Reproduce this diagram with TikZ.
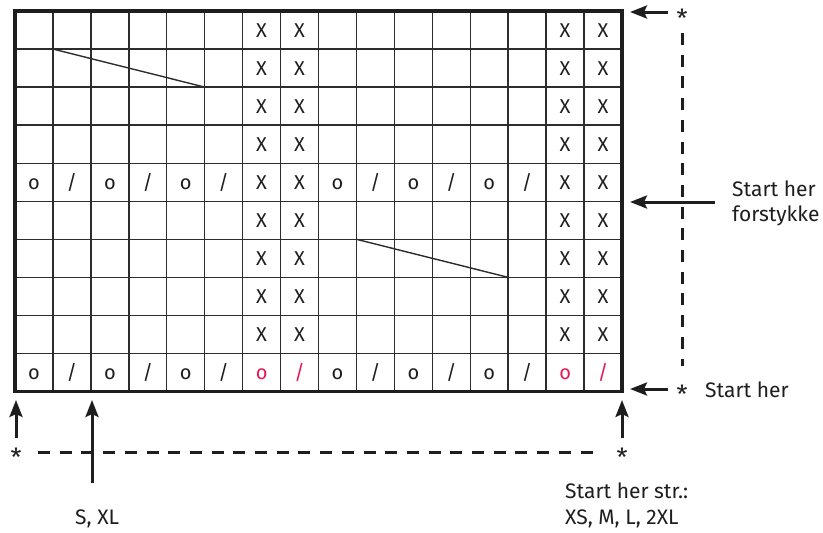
\documentclass[tikz,border=0pt]{standalone}
\usepackage{fontspec}
\setmainfont{Fira Sans}
\usetikzlibrary{arrows.meta}
\definecolor{gridc}{RGB}{45,45,45}
\definecolor{redc}{RGB}{228,24,84}
\definecolor{txt}{RGB}{30,30,30}
\begin{document}
\begin{tikzpicture}[x=1pt,y=-1pt,
  cell/.style={font=\fontsize{20}{20}\selectfont, text=txt, inner sep=0pt, anchor=base},
  redcell/.style={cell, text=redc},
  lbl/.style={font=\fontsize{21}{25}\selectfont, text=txt, inner sep=0pt, anchor=base west},
  star/.style={font=\fontsize{25}{25}\selectfont, text=txt, inner sep=0pt, anchor=base},
  arr/.style={line width=3pt, txt, -{Stealth[length=17pt,width=13pt,inset=3pt]}},
  dsh/.style={line width=3pt, txt, dash pattern=on 12pt off 9.7pt},
  gline/.style={line width=1.4pt, gridc},
  border/.style={line width=3.5pt, txt},
]
\useasboundingbox (0,0) rectangle (823,533);
\def\XO{15}
\def\YO{11}
\def\W{37.9375}
\def\H{38.05}
% grid
\foreach \i in {1,...,15} \draw[gline] ({\XO+\i*\W},\YO) -- ({\XO+\i*\W},391.5);
\foreach \j in {1,...,9} \draw[gline] (\XO,{\YO+\j*\H}) -- (622,{\YO+\j*\H});
\draw[border] (\XO,\YO) rectangle (622,391.5);
% diagonal lines
\coordinate (d1a) at ({\XO+1*\W},{\YO+1*\H});
\coordinate (d1b) at ({\XO+5*\W},{\YO+2*\H});
\coordinate (d2a) at ({\XO+9*\W},{\YO+6*\H});
\coordinate (d2b) at ({\XO+13*\W},{\YO+7*\H});
\draw[gline] (d1a) -- (d1b);
\draw[gline] (d2a) -- (d2b);
% X columns
\foreach \r in {0,1,2,3,4,5,6,7,8} {
  \foreach \c in {6,7,14,15}
    \node[cell] (x\r-\c) at ({\XO+(\c+0.5)*\W},{\YO+(\r+0.5)*\H+7.5}) {X};
}
% row 4 and row 9: o and /
\foreach \c in {0,2,4,8,10,12} {
  \node[cell] (o4-\c) at ({\XO+(\c+0.5)*\W},{\YO+4.5*\H+7.5}) {o};
  \node[cell] (o9-\c) at ({\XO+(\c+0.5)*\W},{\YO+9.5*\H+7.5}) {o};
}
\foreach \c in {1,3,5,9,11,13} {
  \node[cell] (q4-\c) at ({\XO+(\c+0.5)*\W},{\YO+4.5*\H+7.5}) {/};
  \node[cell] (q9-\c) at ({\XO+(\c+0.5)*\W},{\YO+9.5*\H+7.5}) {/};
}
\foreach \c in {6,14}
  \node[redcell] (o9-\c) at ({\XO+(\c+0.5)*\W},{\YO+9.5*\H+7.5}) {o};
\foreach \c in {7,15}
  \node[redcell] (q9-\c) at ({\XO+(\c+0.5)*\W},{\YO+9.5*\H+7.5}) {/};
% stars
\node[star] (s1) at (682,27) {*};
\node[star] (s2) at (682,403) {*};
\node[star] (s3) at (16,466) {*};
\node[star] (s4) at (622,466) {*};
% arrows
\coordinate (a1s) at (668,12);   \coordinate (a1e) at (630,12);
\coordinate (a2s) at (715,202);  \coordinate (a2e) at (630,202);
\coordinate (a3s) at (668,389);  \coordinate (a3e) at (630,389);
\coordinate (a4s) at (16,438);   \coordinate (a4e) at (16,400);
\coordinate (a5s) at (92,483);   \coordinate (a5e) at (92,400);
\coordinate (a6s) at (622,438);  \coordinate (a6e) at (622,400);
\draw[arr] (a1s) -- (a1e);
\draw[arr] (a2s) -- (a2e);
\draw[arr] (a3s) -- (a3e);
\draw[arr] (a4s) -- (a4e);
\draw[arr] (a5s) -- (a5e);
\draw[arr] (a6s) -- (a6e);
% dashed lines
\coordinate (v1) at (682,33); \coordinate (v2) at (682,366);
\coordinate (h1) at (38,452); \coordinate (h2) at (602,452);
\draw[dsh] (v1) -- (v2);
\draw[dsh] (h1) -- (h2);
% labels
\node[lbl] (l1) at (732,196) {Start her};
\node[lbl] (l2) at (732,221) {forstykke};
\node[lbl] (l3) at (705,397) {Start her};
\node[lbl] (l4) at (565,498) {Start her str.:};
\node[lbl] (l5) at (565,524) {XS, M, L, 2XL};
\node[lbl] (l6) at (75,524) {S, XL};
\end{tikzpicture}
\end{document}
